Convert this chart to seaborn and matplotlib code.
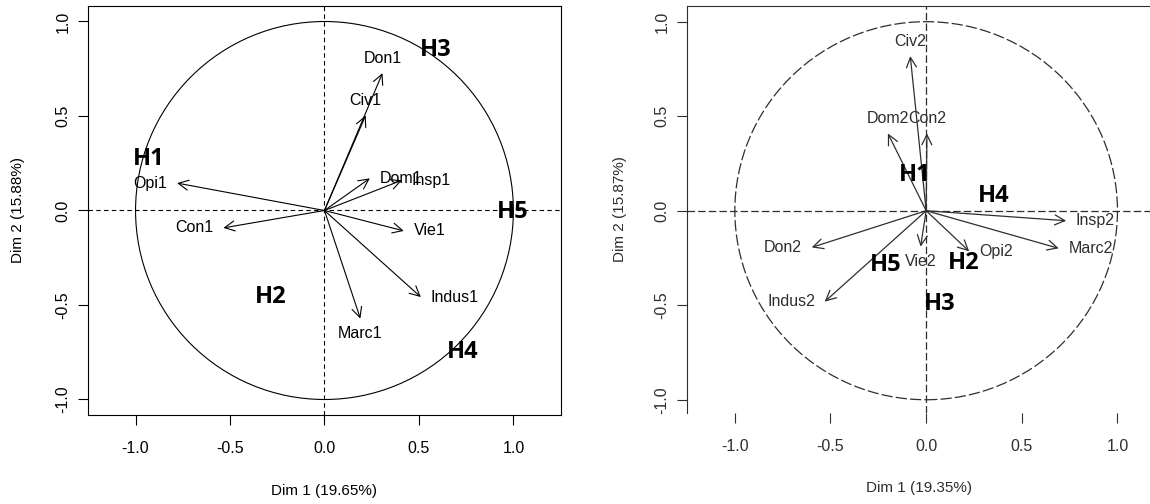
import matplotlib
matplotlib.use("Agg")
import matplotlib.pyplot as plt
from matplotlib.patches import Circle
import seaborn as sns

# coordinates of the variables on dims 1-2
vars_1 = ["Opi1", "Con1", "Don1", "Civ1", "Dom1", "Insp1", "Vie1", "Indus1", "Marc1"]
dim1_1 = [-0.78, -0.535, 0.307, 0.218, 0.24, 0.41, 0.42, 0.51, 0.19]
dim2_1 = [0.145, -0.092, 0.727, 0.503, 0.17, 0.16, -0.108, -0.458, -0.572]

vars_2 = ["Civ2", "Dom2", "Con2", "Insp2", "Marc2", "Opi2", "Vie2", "Don2", "Indus2"]
dim1_2 = [-0.083, -0.20, 0.004, 0.732, 0.693, 0.225, -0.029, -0.598, -0.53]
dim2_2 = [0.818, 0.409, 0.409, -0.053, -0.199, -0.215, -0.19, -0.194, -0.481]

# hypothesis marks written over the plots
hyp = ["H1", "H2", "H3", "H4", "H5"]
hyp_x1 = [-0.93, -0.286, 0.588, 0.73, 0.995]
hyp_y1 = [0.273, -0.459, 0.847, -0.75, -0.01]
hyp_x2 = [-0.058, 0.198, 0.072, 0.353, -0.21]
hyp_y2 = [0.189, -0.279, -0.494, 0.078, -0.287]

ticks = [-1.0, -0.5, 0.0, 0.5, 1.0]
xlabels = ["Dim 1 (19.65%)", "Dim 1 (19.35%)"]
ylabels = ["Dim 2 (15.88%)", "Dim 2 (15.87%)"]

sns.set_style("ticks")
plt.rcParams["font.family"] = ["Liberation Sans", "DejaVu Sans"]
plt.rcParams["axes.unicode_minus"] = False


def draw_panel(ax, names, xs, ys, hx, hy, xlab, ylab, col, dash, circle_ls, lw):
    ax.add_patch(Circle((0, 0), 1, fill=False, lw=lw, ec=col, ls=circle_ls))
    ax.axhline(0, color=col, lw=lw, ls=(0, dash))
    ax.axvline(0, color=col, lw=lw, ls=(0, dash))

    for n, x, y in zip(names, xs, ys):
        ax.annotate("", xy=(x, y), xytext=(0, 0),
                    arrowprops=dict(arrowstyle="->,head_length=0.6,head_width=0.3",
                                    mutation_scale=12, lw=lw, color=col,
                                    shrinkA=0, shrinkB=0))
        # R style label placement: side of the dominant coordinate
        if abs(x) >= abs(y):
            off = (7 if x > 0 else -7, 0)
            ha, va = ("left" if x > 0 else "right"), "center"
        else:
            off = (0, 5 if y > 0 else -5)
            ha, va = "center", ("bottom" if y > 0 else "top")
        ax.annotate(n, (x, y), xytext=off, textcoords="offset points",
                    ha=ha, va=va, fontsize=11.5, color=col)

    for h, x, y in zip(hyp, hx, hy):
        ax.text(x, y, h, family="Open Sans", weight="bold", fontsize=17,
                ha="center", va="center", color="black")

    ax.set_xticks(ticks)
    ax.set_yticks(ticks)
    ax.set_xticklabels([f"{t:.1f}" for t in ticks])
    ax.set_yticklabels([f"{t:.1f}" for t in ticks], rotation=90, va="center")
    ax.tick_params(axis="both", length=7.2, width=0.8, colors=col, labelsize=11.5)
    ax.tick_params(axis="x", pad=11.5)
    ax.tick_params(axis="y", pad=5.5)
    ax.set_xlabel(xlab, fontsize=11, color=col)
    ax.set_ylabel(ylab, fontsize=11, color=col)
    for s in ax.spines.values():
        s.set_linewidth(0.8)
        s.set_color(col)


fig = plt.figure(figsize=(11.5, 5.04), dpi=100)
ax1 = fig.add_axes([0.0768, 0.1766, 0.4107, 0.8115])
ax2 = fig.add_axes([0.5974, 0.1806, 0.4026, 0.8075])

draw_panel(ax1, vars_1, dim1_1, dim2_1, hyp_x1, hyp_y1, xlabels[0], ylabels[0],
           "black", (4, 3), "-", 0.8)
ax1.set_xlim(-1.25, 1.25)
ax1.set_ylim(-1.082, 1.082)

draw_panel(ax2, vars_2, dim1_2, dim2_2, hyp_x2, hyp_y2, xlabels[1], ylabels[1],
           "#2e2e2e", (6, 2.5), (0, (9, 2.5)), 0.9)
ax2.set_xlim(-1.25, 1.17)
ax2.set_ylim(-1.07, 1.083)
sns.despine(ax=ax2, top=False, right=True, left=False, bottom=True)
ax2.xaxis.set_ticks_position("bottom")
ax2.xaxis.set_label_position("bottom")

for ax, xc, yc in [(ax1, -0.185, -0.148), (ax2, -0.184, -0.145)]:
    ax.xaxis.label.set_va("center")
    ax.yaxis.label.set_va("center")
    ax.xaxis.set_label_coords(0.5, xc)
    ax.yaxis.set_label_coords(yc, 0.5)

fig.savefig("out.png", dpi=100)
